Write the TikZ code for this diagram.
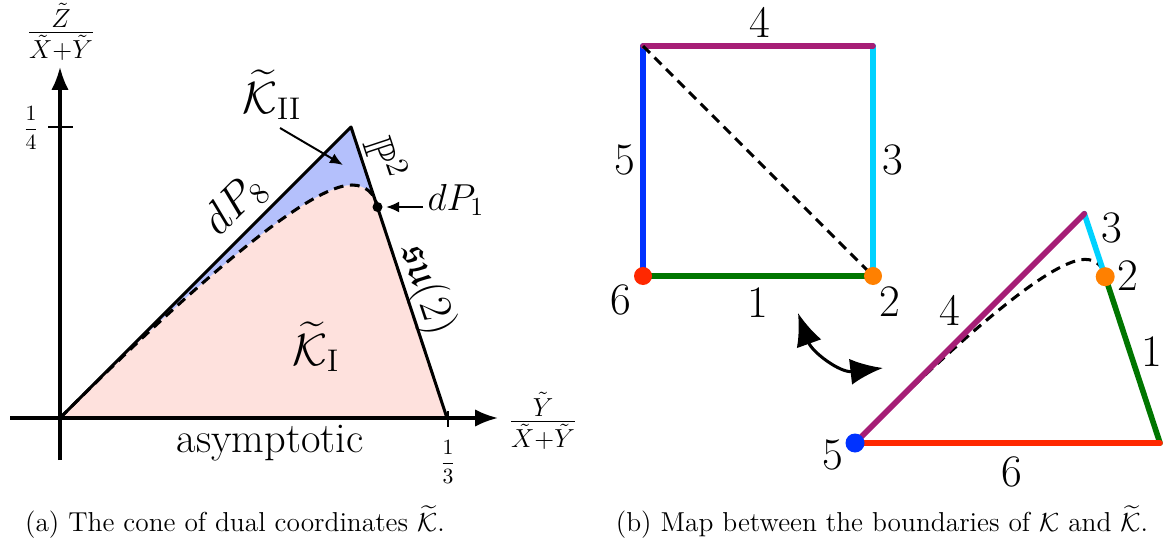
\documentclass[tikz,border=0pt]{standalone}
\usepackage{amsmath,amssymb}
\usetikzlibrary{arrows.meta}
\definecolor{pinkfill}{RGB}{254,225,221}
\definecolor{bluefill}{RGB}{180,192,252}
\definecolor{cpurple}{RGB}{166,30,118}
\definecolor{ccyan}{RGB}{0,210,255}
\definecolor{cblue}{RGB}{0,50,255}
\definecolor{cgreen}{RGB}{0,118,0}
\definecolor{cred}{RGB}{255,40,0}
\definecolor{corange}{RGB}{255,128,0}
\begin{document}
\begin{tikzpicture}[x=0.46pt,y=-0.46pt,
  axisline/.style={line width=1.4pt,-{Latex[length=10.5pt,width=8pt]}},
  triedge/.style={line width=1.4pt,line cap=round,line join=round},
  dashcurve/.style={line width=1.4pt,dash pattern=on 4.5pt off 3pt},
  tickline/.style={line width=1.2pt},
  lbl/.style={font=\fontsize{19.5}{23}\selectfont,inner sep=1pt},
  lblb/.style={font=\LARGE,inner sep=1pt},
  fraclbl/.style={font=\LARGE,inner sep=1pt},
  smalllbl/.style={font=\normalsize,inner sep=1pt},
  ptr/.style={line width=0.9pt,-{Latex[length=6pt,width=5pt]}},
  thickln/.style={line width=2.6pt,line cap=round},
  diglbl/.style={font=\huge,inner sep=1pt},
  captxt/.style={font=\fontsize{12.6}{15}\selectfont,inner sep=0pt},
  dblarrow/.style={line width=1.4pt,{Latex[length=15pt,width=12pt]}-{Latex[length=15pt,width=12pt]}}]
\useasboundingbox (0,0) rectangle (1164,543);
% ---------------- (a) ----------------
\coordinate (O) at (60,418);
\coordinate (A) at (351,127);
\coordinate (R) at (447,418);
\coordinate (D) at (377.5,207);
\coordinate (pk) at (352,185);
\fill[pinkfill] (O) .. controls (160,318) and (302,185) .. (pk) .. controls (366,185) and (375,194) .. (D) -- (R) -- cycle;
\fill[bluefill] (O) -- (A) -- (D) .. controls (375,194) and (366,185) .. (pk) .. controls (302,185) and (160,318) .. (O) -- cycle;
\coordinate (xs) at (10,418); \coordinate (xe) at (498,418);
\coordinate (ys) at (60,460); \coordinate (ye) at (60,67);
\draw[axisline] (xs) -- (xe);
\draw[axisline] (ys) -- (ye);
\coordinate (t4a) at (48,127); \coordinate (t4b) at (73,127);
\coordinate (t3a) at (448,411); \coordinate (t3b) at (448,427);
\draw[tickline] (t4a) -- (t4b);
\draw[tickline] (t3a) -- (t3b);
\draw[triedge] (O) -- (A) -- (R);
\draw[dashcurve] (O) .. controls (160,318) and (302,185) .. (pk) .. controls (366,185) and (375,194) .. (D);
\fill (D) circle[radius=5];
\node[fraclbl] (ylab) at (61,32) {$\frac{\tilde Z}{\tilde X+\tilde Y}$};
\node[fraclbl] (xlab) at (543,421) {$\frac{\tilde Y}{\tilde X+\tilde Y}$};
\node[smalllbl] (q4) at (31,128) {$\dfrac{1}{4}$};
\node[smalllbl] (q3) at (448,462) {$\dfrac{1}{3}$};
\node[lbl] (asy) at (270,443) {asymptotic};
\node[lbl] (K2) at (272,95) {$\widetilde{\mathcal{K}}_{\mathrm{II}}$};
\node[lbl] (K1) at (316,347) {$\widetilde{\mathcal{K}}_{\mathrm{I}}$};
\node[lbl,rotate=45] (dp8) at (235,205) {$dP_8$};
\node[lbl,rotate=-71.7] (p2) at (386,158) {$\mathbb{P}^2$};
\node[lbl,rotate=-71.7] (su) at (427,290) {$\mathfrak{su}(2)$};
\node[lblb] (dp1) at (456,200) {$dP_1$};
\coordinate (k2s) at (280,128); \coordinate (k2e) at (343,165);
\draw[ptr] (k2s) -- (k2e);
\coordinate (d1s) at (423,207); \coordinate (d1e) at (386,207);
\draw[ptr] (d1s) -- (d1e);
% ---------------- (b) ----------------
\coordinate (TL) at (643,46); \coordinate (TR) at (873,46);
\coordinate (BL) at (643,276); \coordinate (BR) at (873,276);
\draw[thickln,cblue] (TL) -- (BL);
\draw[thickln,cgreen] (BL) -- (BR);
\draw[thickln,ccyan] (BR) -- (TR);
\draw[thickln,cpurple] (TL) -- (TR);
\draw[dashcurve] (TL) -- (BR);
\fill[cred] (BL) circle[radius=9];
\fill[corange] (BR) circle[radius=9];
\node[diglbl] (s4) at (760,22) {4};
\node[diglbl] (s5) at (625,160) {5};
\node[diglbl] (s3) at (893,160) {3};
\node[diglbl] (s6) at (621,300) {6};
\node[diglbl] (s1) at (758,303) {1};
\node[diglbl] (s2) at (890,302) {2};
\coordinate (B5) at (855,443);
\coordinate (B3) at (1084.3,213.7);
\coordinate (B2) at (1105.2,276.7);
\coordinate (B1) at (1160,443);
\begin{scope}[shift={(855,443)},scale=0.788,shift={(-60,-418)}]
\draw[dashcurve] (60,418) .. controls (160,318) and (302,185) .. (352,185) .. controls (366,185) and (375,194) .. (377.5,207);
\end{scope}
\draw[thickln,ccyan] (B3) -- (B2);
\draw[thickln,cgreen] (B2) -- (B1);
\draw[thickln,cred] (B5) -- (B1);
\draw[thickln,cpurple] (B5) -- (B3);
\fill[cblue] (B5) circle[radius=9.5];
\fill[corange] (B2) circle[radius=9.5];
\node[diglbl] (t3) at (1112,228) {3};
\node[diglbl] (t2) at (1128,276) {2};
\node[diglbl] (t1) at (1152,352) {1};
\node[diglbl] (t4) at (950,310) {4};
\node[diglbl] (t5) at (833,455) {5};
\node[diglbl] (t6) at (1012,472) {6};
\coordinate (da) at (798,313); \coordinate (db) at (883,368);
\draw[dblarrow] (da) .. controls (812,352) and (840,373) .. (db);
% captions
\node[captxt] (capa) at (235,522) {(a) The cone of dual coordinates $\widetilde{\mathcal{K}}$.};
\node[captxt] (capb) at (882,522) {(b) Map between the boundaries of $\mathcal{K}$ and $\widetilde{\mathcal{K}}$.};
\end{tikzpicture}
\end{document}
